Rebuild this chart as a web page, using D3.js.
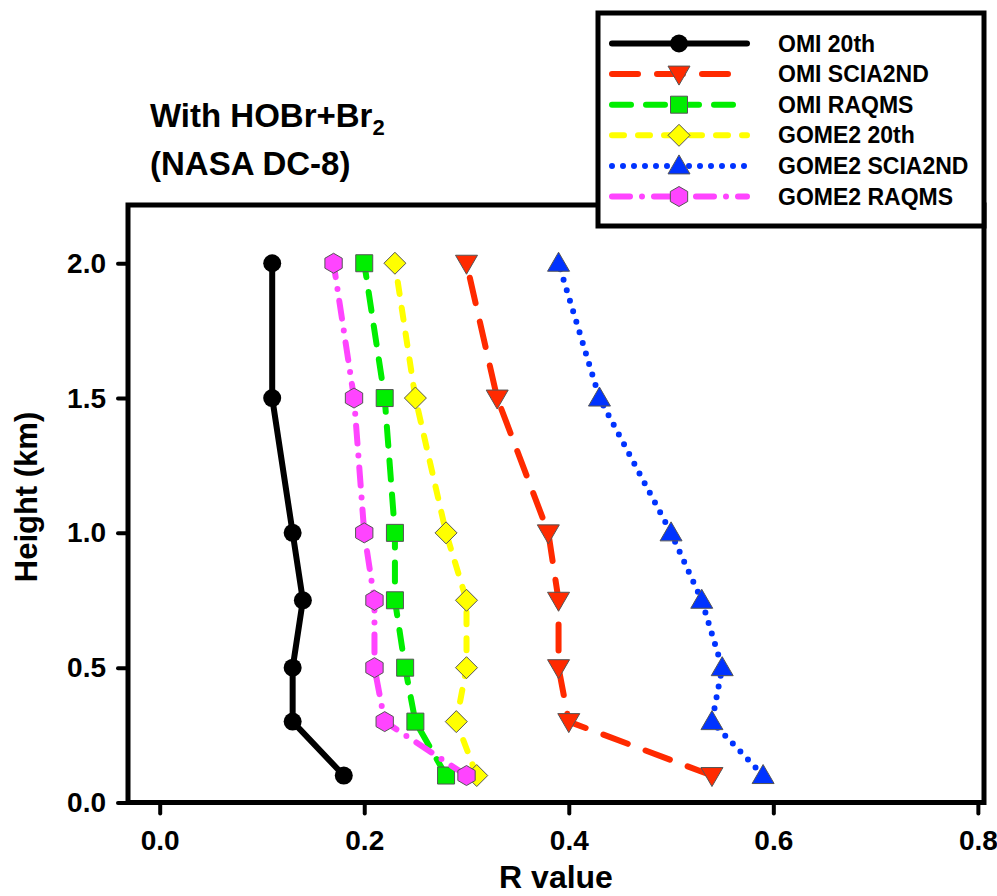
<!DOCTYPE html>
<html>
<head>
<meta charset="utf-8">
<script src="https://cdn.jsdelivr.net/npm/d3@7"></script>
<style>
  html, body { margin: 0; padding: 0; background: #fff; }
  svg { display: block; font-family: "Liberation Sans", Arial, sans-serif; font-weight: bold; }
</style>
</head>
<body>
<svg id="chart" width="997" height="896"></svg>
<script>
// Heights (km) sampled by the DC-8 profile
const heights = [0.1, 0.3, 0.5, 0.75, 1.0, 1.5, 2.0];

// Correlation (R) at each height, per retrieval
const omi20th      = [0.18, 0.13, 0.13, 0.14, 0.13, 0.11, 0.11];
const omiScia2nd   = [0.54, 0.40, 0.39, 0.39, 0.38, 0.33, 0.30];
const omiRaqms     = [0.28, 0.25, 0.24, 0.23, 0.23, 0.22, 0.20];
const gome20th     = [0.31, 0.29, 0.30, 0.30, 0.28, 0.25, 0.23];
const gomeScia2nd  = [0.59, 0.54, 0.55, 0.53, 0.50, 0.43, 0.39];
const gomeRaqms    = [0.30, 0.22, 0.21, 0.21, 0.20, 0.19, 0.17];

const seriesNames = ["OMI 20th", "OMI SCIA2ND", "OMI RAQMS", "GOME2 20th", "GOME2 SCIA2ND", "GOME2 RAQMS"];
const xTicks = [0.0, 0.2, 0.4, 0.6, 0.8];
const yTicks = [0.0, 0.5, 1.0, 1.5, 2.0];

const series = [
  { name: seriesNames[0], values: omi20th,     color: "#000000", dash: null,          shape: "circle"   },
  { name: seriesNames[1], values: omiScia2nd,  color: "#ff2a00", dash: "26 19",       shape: "triDown"  },
  { name: seriesNames[2], values: omiRaqms,    color: "#00ee00", dash: "19 15",       shape: "square"   },
  { name: seriesNames[3], values: gome20th,    color: "#ffff00", dash: "12 14",       shape: "diamond"  },
  { name: seriesNames[4], values: gomeScia2nd, color: "#0033ff", dash: "0 11",        shape: "triUp"    },
  { name: seriesNames[5], values: gomeRaqms,   color: "#ff44ff", dash: "18 12 0 12", shape: "hexagon"  }
];

const svg = d3.select("#chart");

const x = d3.scaleLinear().domain([-0.031, 0.806]).range([128, 984]);
const y = d3.scaleLinear().domain([0, 2.216]).range([802.5, 205]);

// marker path generators, centred on 0,0
function markerPath(shape) {
  switch (shape) {
    case "circle":  return d3.symbol().type(d3.symbolCircle).size(Math.PI * 9 * 9)();
    case "square":  return "M-8.5,-8.5H8.5V8.5H-8.5Z";
    case "diamond": return "M0,-11L11,0L0,11L-11,0Z";
    case "triUp":   return "M0,-11L11,8L-11,8Z";
    case "triDown": return "M0,11L11,-8L-11,-8Z";
    case "hexagon": {
      const r = 10;
      return d3.range(6).map((i, k) => {
        const a = Math.PI / 3 * i - Math.PI / 2;
        return (k ? "L" : "M") + (r * Math.cos(a)).toFixed(2) + "," + (r * Math.sin(a)).toFixed(2);
      }).join("") + "Z";
    }
  }
}

function styleMarker(sel, s) {
  sel.attr("d", markerPath(s.shape))
     .attr("fill", s.color)
     .attr("stroke", s.shape === "circle" ? "#000" : "#555")
     .attr("stroke-width", s.shape === "circle" ? 0 : 1);
}

const line = d3.line().x(d => x(d.v)).y(d => y(d.h));

const plot = svg.append("g");
series.forEach(s => {
  const pts = s.values.map((v, i) => ({ v, h: heights[i] }));
  plot.append("path")
    .datum(pts)
    .attr("d", line)
    .attr("fill", "none")
    .attr("stroke", s.color)
    .attr("stroke-width", 6)
    .attr("stroke-linecap", "round")
    .attr("stroke-linejoin", "round")
    .attr("stroke-dasharray", s.dash);
  plot.selectAll(null)
    .data(pts)
    .enter().append("path")
    .attr("transform", d => `translate(${x(d.v)},${y(d.h)})`)
    .call(styleMarker, s);
});

// frame
const frame = svg.append("g").attr("stroke", "#000").attr("stroke-width", 5).attr("fill", "none");
frame.append("rect")
  .attr("x", x.range()[0]).attr("y", y.range()[1])
  .attr("width", x.range()[1] - x.range()[0])
  .attr("height", y.range()[0] - y.range()[1]);

// axes
const xAxis = d3.axisBottom(x).tickValues(xTicks).tickFormat(d3.format(".1f")).tickSize(11).tickPadding(17);
const gx = svg.append("g").attr("transform", `translate(0,${y(0)})`).call(xAxis);
gx.select(".domain").remove();
gx.selectAll(".tick line").attr("stroke", "#000").attr("stroke-width", 4).attr("stroke-linecap", "round");
gx.selectAll(".tick text").attr("font-size", 28).attr("font-weight", "bold").attr("font-family", "Liberation Sans, Arial, sans-serif").attr("fill", "#000");

const yAxis = d3.axisLeft(y).tickValues(yTicks).tickFormat(d3.format(".1f")).tickSize(10).tickPadding(12);
const gy = svg.append("g").attr("transform", `translate(${x.range()[0]},0)`).call(yAxis);
gy.select(".domain").remove();
gy.selectAll(".tick line").attr("stroke", "#000").attr("stroke-width", 4).attr("stroke-linecap", "round");
gy.selectAll(".tick text").attr("font-size", 28).attr("font-weight", "bold").attr("font-family", "Liberation Sans, Arial, sans-serif").attr("fill", "#000");

// axis titles
svg.append("text")
  .attr("x", 556).attr("y", 888)
  .attr("text-anchor", "middle")
  .attr("font-size", 32)
  .text("R value");

svg.append("text")
  .attr("transform", "translate(37,497) rotate(-90)")
  .attr("text-anchor", "middle")
  .attr("font-size", 31)
  .text("Height (km)");

// panel title
const t1 = svg.append("text").attr("x", 150).attr("y", 127).attr("font-size", 33);
t1.append("tspan").text("With HOBr+Br");
t1.append("tspan").attr("font-size", 22).attr("dy", 8).text("2");
svg.append("text").attr("x", 150).attr("y", 175).attr("font-size", 33).text("(NASA DC-8)");

// legend
const legend = svg.append("g");
legend.append("rect")
  .attr("x", 598).attr("y", 13).attr("width", 386).attr("height", 213)
  .attr("fill", "#fff").attr("stroke", "#000").attr("stroke-width", 5);

series.forEach((s, i) => {
  const ly = 43.5 + i * 30.6;
  legend.append("line")
    .attr("x1", 612).attr("x2", 747).attr("y1", ly).attr("y2", ly)
    .attr("stroke", s.color).attr("stroke-width", 6)
    .attr("stroke-linecap", "round")
    .attr("stroke-dasharray", s.dash);
  legend.append("path")
    .attr("transform", `translate(679,${ly})`)
    .call(styleMarker, s);
  legend.append("text")
    .attr("x", 778).attr("y", ly)
    .attr("dominant-baseline", "central")
    .attr("font-size", 23)
    .text(s.name);
});
</script>
</body>
</html>
